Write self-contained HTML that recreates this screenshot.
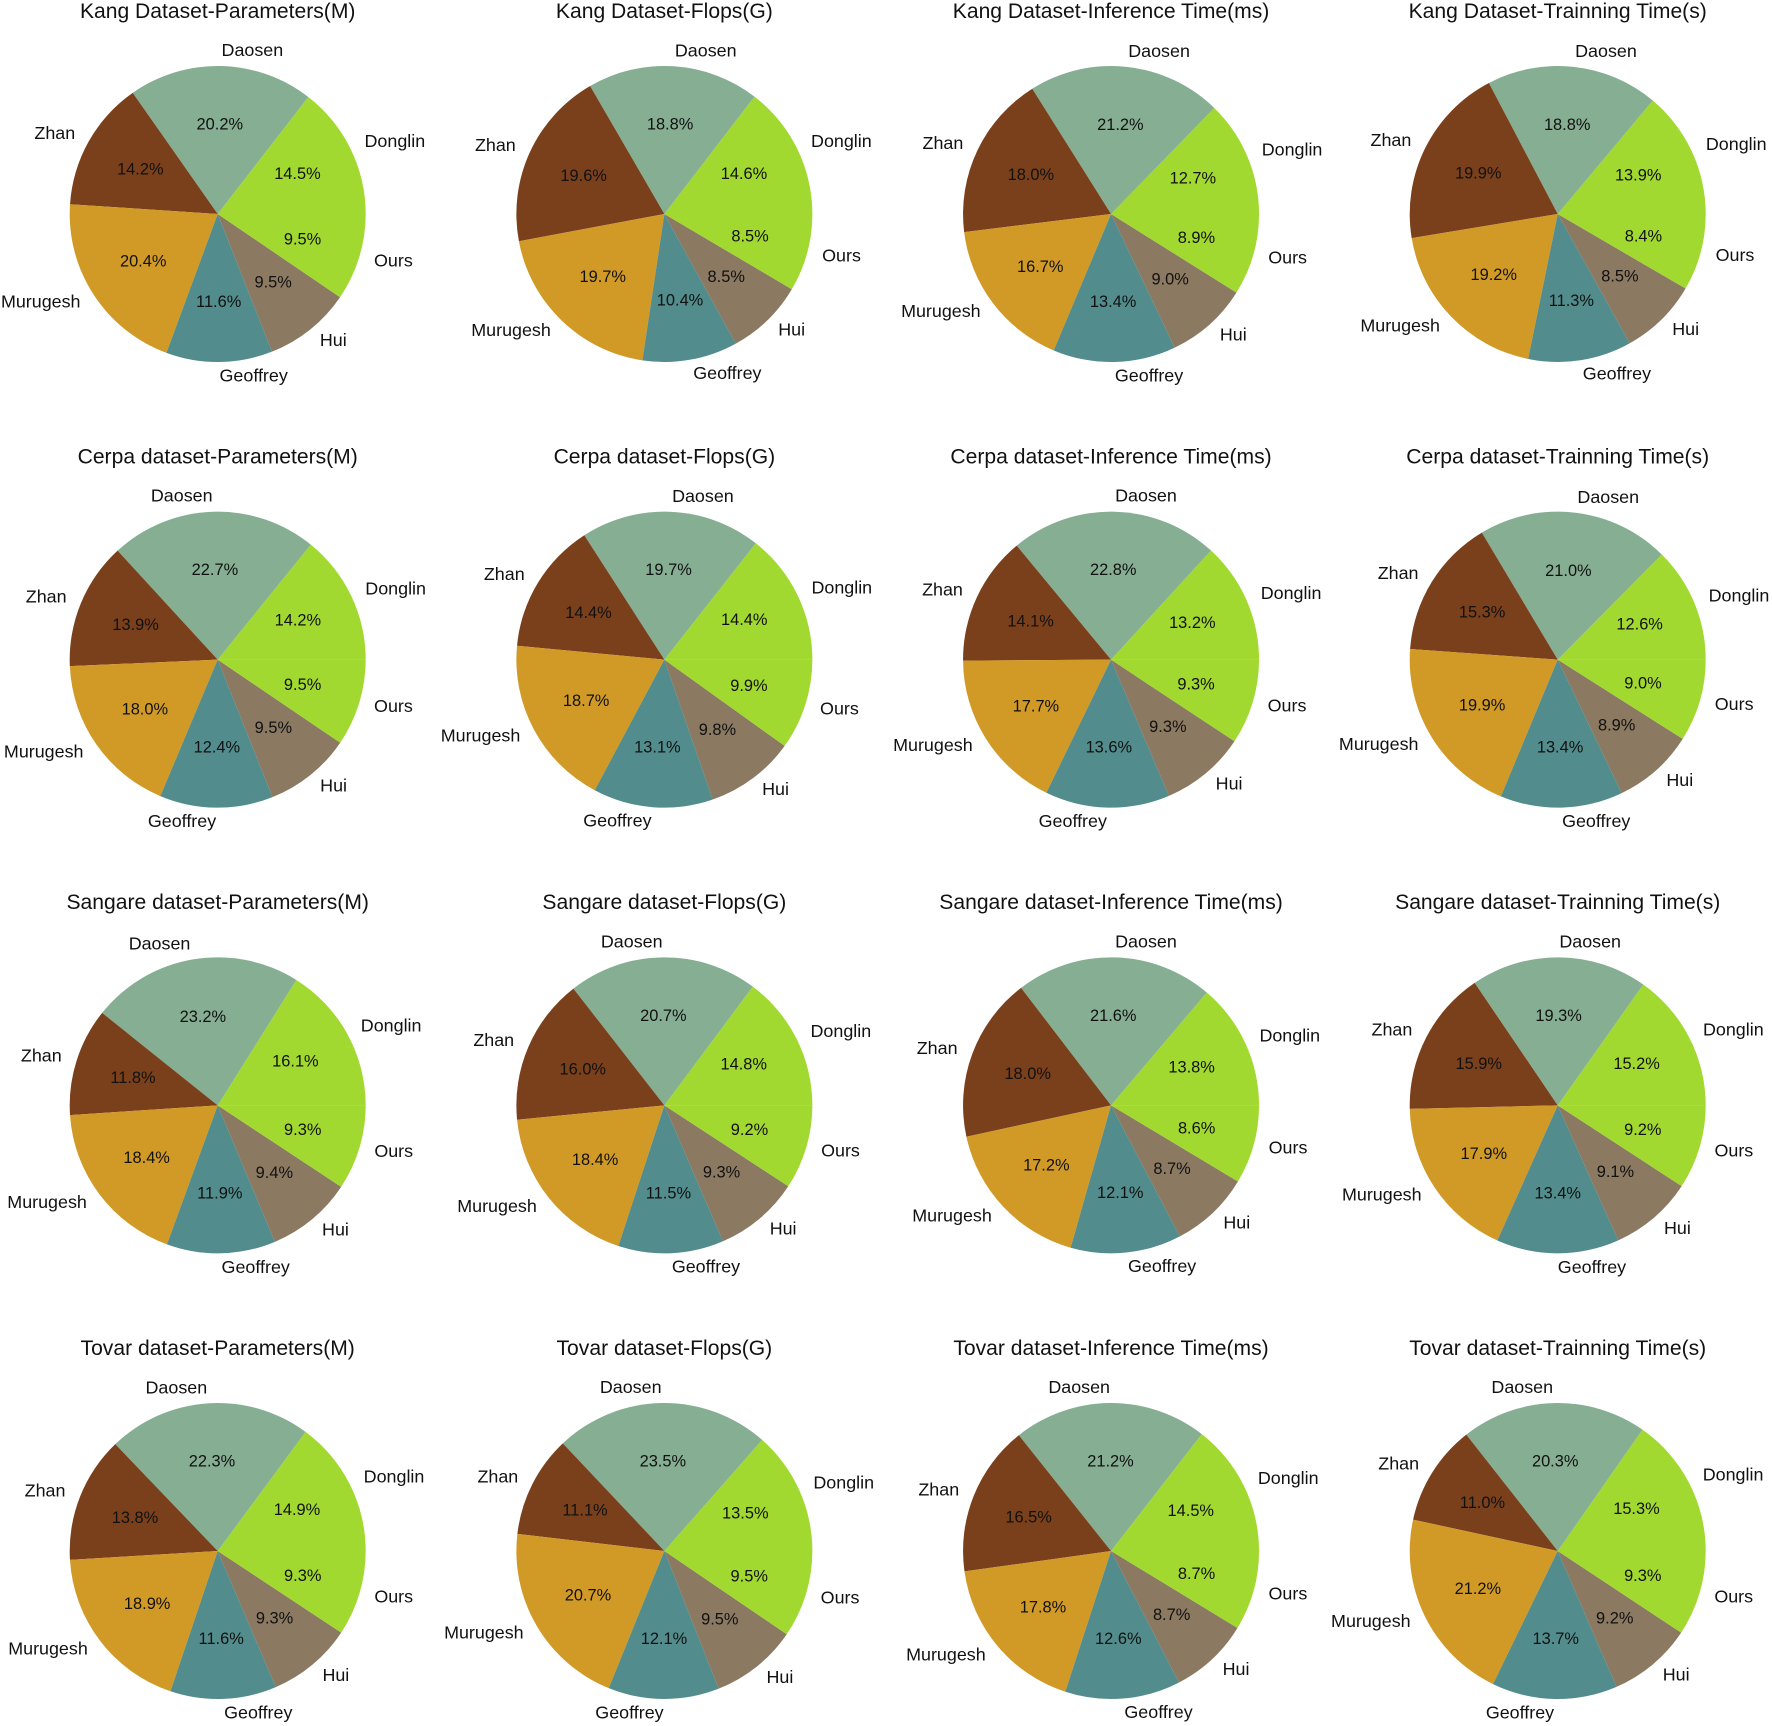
<!DOCTYPE html>
<html lang="en">
<head>
<meta charset="utf-8">
<title>Dataset comparison pie charts</title>
<style>
html,body{margin:0;padding:0;background:#fff;}
svg{display:block;filter:blur(0.35px);}
text{font-family:"Liberation Sans",Arial,sans-serif;fill:#111;}
</style>
</head>
<body>
<svg id="chart" xmlns="http://www.w3.org/2000/svg" width="1772" height="1726" viewBox="0 0 1772 1726"></svg>
<script>
// Series order for every pie
const categories = ["Donglin", "Daosen", "Zhan", "Murugesh", "Geoffrey", "Hui", "Ours"];
const sliceColors = ["#a2d931", "#85ae93", "#7a401b", "#d19a27", "#528c8c", "#8b7961", "#a2d931"];

const datasets = ["Kang Dataset", "Cerpa dataset", "Sangare dataset", "Tovar dataset"];
const metrics = ["Parameters(M)", "Flops(G)", "Inference Time(ms)", "Trainning Time(s)"];

const kangParameters = [14.5, 20.2, 14.2, 20.4, 11.6, 9.5, 9.5];
const kangFlops = [14.6, 18.8, 19.6, 19.7, 10.4, 8.5, 8.5];
const kangInference = [12.7, 21.2, 18.0, 16.7, 13.4, 9.0, 8.9];
const kangTraining = [13.9, 18.8, 19.9, 19.2, 11.3, 8.5, 8.4];

const cerpaParameters = [14.2, 22.7, 13.9, 18.0, 12.4, 9.5, 9.5];
const cerpaFlops = [14.4, 19.7, 14.4, 18.7, 13.1, 9.8, 9.9];
const cerpaInference = [13.2, 22.8, 14.1, 17.7, 13.6, 9.3, 9.3];
const cerpaTraining = [12.6, 21.0, 15.3, 19.9, 13.4, 8.9, 9.0];

const sangareParameters = [16.1, 23.2, 11.8, 18.4, 11.9, 9.4, 9.3];
const sangareFlops = [14.8, 20.7, 16.0, 18.4, 11.5, 9.3, 9.2];
const sangareInference = [13.8, 21.6, 18.0, 17.2, 12.1, 8.7, 8.6];
const sangareTraining = [15.2, 19.3, 15.9, 17.94, 13.4, 9.1, 9.2];

const tovarParameters = [14.9, 22.3, 13.8, 18.9, 11.6, 9.3, 9.3];
const tovarFlops = [13.5, 23.5, 11.1, 20.7, 12.1, 9.5, 9.5];
const tovarInference = [14.5, 21.2, 16.5, 17.8, 12.6, 8.7, 8.7];
const tovarTraining = [15.3, 20.3, 11.0, 21.2, 13.7, 9.2, 9.3];

const grid = [
  [kangParameters, kangFlops, kangInference, kangTraining],
  [cerpaParameters, cerpaFlops, cerpaInference, cerpaTraining],
  [sangareParameters, sangareFlops, sangareInference, sangareTraining],
  [tovarParameters, tovarFlops, tovarInference, tovarTraining]
];

const NS = "http://www.w3.org/2000/svg";
const svg = document.getElementById("chart");
const RADIUS = 148;
const colCenter = c => 217.7 + c * 446.67;
const rowCenter = r => 214 + r * 445.67;
const slug = s => s.toLowerCase().replace(/[^a-z0-9]+/g, "-").replace(/^-|-$/g, "");
const angleOf = (cum, total) => cum / total * 2 * Math.PI;
const px = (cx, a, k) => cx + k * RADIUS * Math.cos(a);
const py = (cy, a, k) => cy - k * RADIUS * Math.sin(a);

function addText(parent, x, y, str, size, anchor) {
  const t = document.createElementNS(NS, "text");
  t.setAttribute("x", x.toFixed(2));
  t.setAttribute("y", (y + size * 0.35 - 1.5).toFixed(2));
  t.setAttribute("font-size", size);
  t.setAttribute("text-anchor", anchor);
  t.textContent = str;
  parent.appendChild(t);
  return t;
}

grid.forEach((row, r) => {
  row.forEach((values, c) => {
    const cx = colCenter(c), cy = rowCenter(r);
    const name = slug(datasets[r] + " " + metrics[c]);
    const g = document.createElementNS(NS, "g");
    
    
    svg.appendChild(g);

    const titleText = addText(g, cx, cy - 202, datasets[r] + "-" + metrics[c], 21.1, "middle");
    
    

    const total = values.reduce((a, b) => a + b, 0);
    let cum = 0;
    values.forEach((v, i) => {
      const a0 = angleOf(cum, total);
      const a1 = angleOf(cum + v, total);
      cum += v;
      const large = a1 - a0 > Math.PI ? 1 : 0;
      const wedge = document.createElementNS(NS, "path");
      wedge.setAttribute("d",
        "M" + cx.toFixed(2) + " " + cy.toFixed(2) +
        "L" + px(cx, a0, 1).toFixed(2) + " " + py(cy, a0, 1).toFixed(2) +
        "A" + RADIUS + " " + RADIUS + " 0 " + large + " 0 " + px(cx, a1, 1).toFixed(2) + " " + py(cy, a1, 1).toFixed(2) + "Z");
      wedge.setAttribute("fill", sliceColors[i]);
      
      
      g.appendChild(wedge);
    });

    cum = 0;
    values.forEach((v, i) => {
      const mid = angleOf(cum + v / 2, total);
      cum += v;
      const lx = px(cx, mid, 1.105), ly = py(cy, mid, 1.1);
      const label = addText(g, lx, ly, categories[i], 17.9, Math.cos(mid) < 0 ? "end" : "start");
      
      
      const pct = addText(g, px(cx, mid, 0.6), py(cy, mid, 0.6), v.toFixed(1) + "%", 16.4, "middle");
      
      
    });
  });
});
</script>
</body>
</html>
